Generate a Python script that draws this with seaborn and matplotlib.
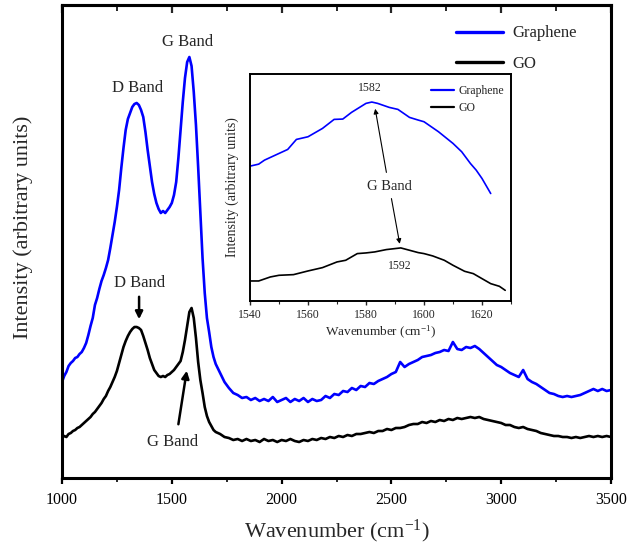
import numpy as np
import pandas as pd
import seaborn as sns
import matplotlib
matplotlib.use("Agg")
import matplotlib.pyplot as plt
from matplotlib.ticker import MultipleLocator

# ---------------- data (main spectrum) ----------------
wavenumber = list(range(1000, 1701, 10)) + list(range(1720, 3501, 20))

graphene_intensity = [
    96, 102, 106, 112, 115, 117, 120, 121, 124, 126,
    130, 135, 143, 152, 160, 173, 180, 189, 197, 203,
    210, 218, 230, 243, 256, 271, 288, 310, 330, 348,
    359, 365, 371, 374, 375, 373, 368, 361, 346, 328,
    312, 296, 284, 275, 269, 265, 267, 265, 268, 271,
    275, 283, 296, 320, 348, 376, 400, 416, 421, 412,
    386, 353, 311, 266, 220, 185, 160, 146, 131, 121,
    114,
    105, 96, 90, 85, 83, 80, 81, 78, 80, 77,
    79, 77, 81, 76, 78, 80, 76, 79, 77, 80,
    76, 79, 77, 78, 82, 80, 84, 83, 87, 86,
    90, 88, 92, 91, 95, 94, 97, 99, 101, 104,
    106, 116, 111, 114, 116, 118, 121, 122, 123, 125,
    126, 128, 127, 136, 129, 128, 131, 130, 132, 129,
    125, 121, 117, 113, 111, 108, 105, 103, 101, 108,
    99, 96, 94, 91, 88, 85, 84, 82, 81, 82,
    81, 82, 83, 85, 87, 89, 87, 89, 87, 88,
]

go_intensity = [
    40, 42, 41, 44, 45, 47, 48, 50, 51, 53,
    55, 57, 59, 61, 64, 66, 69, 72, 75, 79,
    82, 87, 91, 96, 101, 107, 115, 123, 131, 137,
    142, 146, 149, 151, 151, 150, 148, 142, 135, 128,
    120, 114, 108, 105, 102, 101, 102, 101, 103, 104,
    106, 108, 111, 114, 117, 126, 138, 152, 166, 170,
    160, 140, 116, 98, 85, 71, 62, 56, 52, 48,
    46,
    44, 41, 40, 38, 39, 37, 39, 37, 38, 36,
    39, 37, 38, 36, 38, 37, 39, 37, 36, 38,
    37, 39, 38, 40, 39, 41, 40, 42, 41, 43,
    42, 44, 44, 45, 46, 45, 47, 47, 49, 48,
    50, 50, 51, 53, 54, 54, 56, 55, 57, 56,
    58, 57, 59, 58, 60, 59, 60, 61, 60, 61,
    59, 58, 57, 56, 55, 53, 53, 51, 50, 51,
    49, 48, 47, 45, 44, 43, 42, 42, 41, 41,
    40, 41, 40, 41, 42, 41, 42, 41, 42, 41,
]

# ---------------- data (inset, G band region) ----------------
inset_graphene_x = [1540, 1543, 1545, 1550, 1553, 1556, 1558, 1560, 1565, 1569,
                    1572, 1575, 1580, 1582, 1584, 1588, 1591, 1595, 1598, 1600,
                    1605, 1610, 1613, 1616, 1618, 1620, 1623]
inset_graphene_y = [404, 410, 422, 442, 454, 484, 488, 492, 517, 544,
                    545, 565, 592, 596, 592, 580, 574, 550, 542, 537,
                    507, 472, 447, 412, 392, 367, 322]
inset_go_x = [1540, 1543, 1547, 1550, 1555, 1560, 1565, 1570, 1573, 1577,
              1580, 1583, 1587, 1592, 1595, 1598, 1600, 1603, 1607, 1610,
              1614, 1617, 1620, 1623, 1626, 1628]
inset_go_y = [60, 60, 72, 77, 79, 90, 100, 117, 122, 142,
              144, 147, 154, 159, 152, 145, 142, 135, 122, 107,
              89, 82, 67, 52, 44, 32]

samples = ["Graphene", "GO"]
colors = {"Graphene": "#0000ff", "GO": "#000000"}

main_df = pd.concat([
    pd.DataFrame({"wavenumber": wavenumber, "intensity": graphene_intensity, "sample": "Graphene"}),
    pd.DataFrame({"wavenumber": wavenumber, "intensity": go_intensity, "sample": "GO"}),
], ignore_index=True)
inset_df = pd.concat([
    pd.DataFrame({"wavenumber": inset_graphene_x, "intensity": inset_graphene_y, "sample": "Graphene"}),
    pd.DataFrame({"wavenumber": inset_go_x, "intensity": inset_go_y, "sample": "GO"}),
], ignore_index=True)

# ---------------- style ----------------
sns.set_style("ticks")
plt.rcParams["font.family"] = ["Liberation Serif", "DejaVu Serif"]
plt.rcParams["mathtext.fontset"] = "custom"
plt.rcParams["mathtext.rm"] = "Liberation Serif"
plt.rcParams["mathtext.it"] = "Liberation Serif:italic"
plt.rcParams["mathtext.bf"] = "Liberation Serif:bold"

fig = plt.figure(figsize=(6.3, 5.44), dpi=100)
ax = fig.add_axes([62 / 630, 1 - 478 / 544, 549 / 630, 473 / 544])

sns.lineplot(data=main_df, x="wavenumber", y="intensity", hue="sample",
             hue_order=samples, palette=colors, estimator=None, sort=True,
             linewidth=1.9, ax=ax, legend=True)

ax.set_xlim(1000, 3500)
ax.set_ylim(0, 473)
ax.set_yticks([])
ax.xaxis.set_major_locator(MultipleLocator(500))
ax.xaxis.set_minor_locator(MultipleLocator(250))
ax.tick_params(axis="x", which="major", direction="out", length=4, width=1.6,
               labelsize=11.5, pad=6, colors="black")
ax.tick_params(axis="x", which="minor", direction="out", length=3, width=1.4)
for s in ax.spines.values():
    s.set_linewidth(2.2)
    s.set_color("black")
    s.set_visible(True)

top = ax.secondary_xaxis("top")
top.xaxis.set_major_locator(MultipleLocator(500))
top.xaxis.set_minor_locator(MultipleLocator(250))
top.tick_params(axis="x", which="major", direction="in", length=6, width=1.6, labeltop=False)
top.tick_params(axis="x", which="minor", direction="in", length=4, width=1.4)
top.spines["top"].set_linewidth(2.2)

ax.set_xlabel(r"Wavenumber (cm$^{\mathregular{-1}}$)", fontsize=16)
ax.xaxis.set_label_coords(0.5, -0.085)
ax.set_ylabel("Intensity (arbitrary units)", fontsize=16)
ax.yaxis.set_label_coords(-0.053, 0.53)

handles, labels = ax.get_legend_handles_labels()
leg = ax.legend(handles, labels, loc="upper left", bbox_to_anchor=(0.718, 0.957),
                frameon=False, fontsize=12, handlelength=2.8, handletextpad=0.55,
                labelspacing=0.85, borderpad=0, borderaxespad=0)
for h in leg.get_lines():
    h.set_linewidth(2.4)

# annotations in main axes
ax.text(1574, 436, "G Band", ha="center", va="center", fontsize=12)
ax.text(1346, 390, "D Band", ha="center", va="center", fontsize=12)
ax.text(1351, 195, "D Band", ha="center", va="center", fontsize=12)
ax.annotate("", xy=(1351, 156), xytext=(1351, 184),
            arrowprops=dict(arrowstyle="-|>", lw=1.8, color="black", mutation_scale=11))
ax.text(1505, 36, "G Band", ha="center", va="center", fontsize=12)
ax.annotate("", xy=(1570, 110), xytext=(1528, 51),
            arrowprops=dict(arrowstyle="-|>", lw=1.8, color="black", mutation_scale=11))

# ---------------- inset ----------------
ins = fig.add_axes([250 / 630, 1 - 301 / 544, 261 / 630, 227 / 544])
sns.lineplot(data=inset_df, x="wavenumber", y="intensity", hue="sample",
             hue_order=samples, palette=colors, estimator=None, sort=True,
             linewidth=1.2, ax=ins, legend=True)
ins.set_xlim(1540, 1630)
ins.set_ylim(0, 680)
ins.set_yticks([])
ins.xaxis.set_major_locator(MultipleLocator(20))
ins.xaxis.set_minor_locator(MultipleLocator(10))
ins.tick_params(axis="x", which="major", direction="out", length=3, width=1.0,
                labelsize=8.5, pad=3)
ins.tick_params(axis="x", which="minor", direction="out", length=2, width=0.8)
for s in ins.spines.values():
    s.set_linewidth(1.4)
    s.set_color("black")
    s.set_visible(True)
ins.set_xlabel(r"Wavenumber (cm$^{\mathregular{-1}}$)", fontsize=9.5, labelpad=2)
ins.set_ylabel("Intensity (arbitrary units)", fontsize=10, labelpad=8)

h2, l2 = ins.get_legend_handles_labels()
leg2 = ins.legend(h2, l2, loc="upper left", bbox_to_anchor=(0.695, 0.953),
                  frameon=False, fontsize=8.5, handlelength=1.9, handletextpad=0.4,
                  labelspacing=0.45, borderpad=0, borderaxespad=0)
for h in leg2.get_lines():
    h.set_linewidth(1.6)

ins.text(1581.3, 639, "1582", ha="center", va="center", fontsize=8.5)
ins.text(1588, 344, "G Band", ha="center", va="center", fontsize=10.5)
ins.text(1591.7, 104, "1592", ha="center", va="center", fontsize=8.5)
ins.annotate("", xy=(1583, 584), xytext=(1587.2, 377),
             arrowprops=dict(arrowstyle="-|>", lw=0.8, color="black", mutation_scale=7))
ins.annotate("", xy=(1591.8, 163), xytext=(1588.6, 315),
             arrowprops=dict(arrowstyle="-|>", lw=0.8, color="black", mutation_scale=7))

fig.savefig("out.png", dpi=100)
